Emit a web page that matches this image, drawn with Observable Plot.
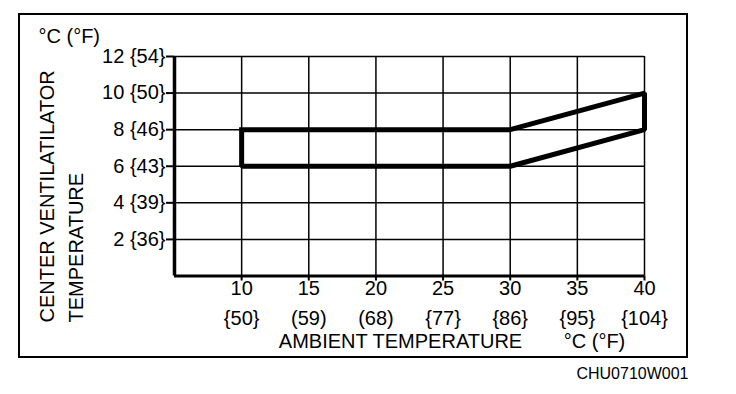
<!DOCTYPE html>
<html><head><meta charset="utf-8">
<script src="https://cdn.jsdelivr.net/npm/d3@7"></script>
<script src="https://cdn.jsdelivr.net/npm/@observablehq/plot@0.6"></script>
<style>body{margin:0;background:#fff}</style>
</head><body><div id="chart"></div>
<script>
// Ambient temperature ticks (°C) and their °F labels
const ambientC = [10, 15, 20, 25, 30, 35, 40];
const ambientF = ["{50}", "(59)", "(68)", "{77}", "{86}", "{95}", "{104}"];
// Center ventilator temperature ticks (°C) and their °F labels
const ventC = [2, 4, 6, 8, 10, 12];
const ventF = ["{36}", "{39}", "{43}", "{46}", "{50}", "{54}"];
// Control zone outline
const zoneAmbient = [10, 30, 40, 40, 30, 10, 10];
const zoneVent = [8, 8, 10, 8, 6, 6, 8];

const zone = zoneAmbient.map((a, i) => ({a, v: zoneVent[i]}));
const xF = new Map(ambientC.map((c, i) => [c, ambientF[i]]));
const yF = new Map(ventC.map((c, i) => [c, `${c} ${ventF[i]}`]));
const font = "'Liberation Sans', Arial, Helvetica, sans-serif";

const svg = Plot.plot({
  width: 736,
  height: 394,
  marginLeft: 174,
  marginRight: 92,
  marginTop: 56,
  marginBottom: 118.5,
  x: {domain: [5, 40], label: null},
  y: {domain: [0, 12], label: null},
  style: {fontFamily: font, fontSize: "20px", background: "white", color: "black"},
  marks: [
    Plot.gridX(ambientC, {stroke: "black", strokeOpacity: 1, strokeWidth: 1.5}),
    Plot.gridY(ventC, {stroke: "black", strokeOpacity: 1, strokeWidth: 1.5}),
    Plot.ruleX([5], {stroke: "black", strokeWidth: 3.5}),
    Plot.ruleY([0], {stroke: "black", strokeWidth: 3}),
    Plot.axisY(ventC, {tickSize: 8, tickPadding: 1, strokeWidth: 2, fontSize: 20, label: null, tickFormat: d => yF.get(d)}),
    Plot.axisX(ambientC, {tickSize: 5, tickPadding: 0, strokeWidth: 2, fontSize: 20, label: null, tickFormat: d => String(d)}),
    Plot.axisX(ambientC, {tickSize: 0, tickPadding: 34.5, fontSize: 20, label: null, tickFormat: d => xF.get(d)}),
    Plot.line(zone, {x: "a", y: "v", stroke: "black", strokeWidth: 5, strokeLinejoin: "miter", strokeLinecap: "square"}),
    Plot.text(["AMBIENT TEMPERATURE"], {frameAnchor: "bottom", dx: -9, dy: 71.5, lineAnchor: "bottom", fontSize: 20}),
    Plot.text(["°C (°F)"], {frameAnchor: "bottom-right", dx: -50, dy: 71.5, lineAnchor: "bottom", textAnchor: "middle", fontSize: 20}),
    Plot.text(["°C (°F)"], {frameAnchor: "top-left", dx: -136, dy: -14, lineAnchor: "bottom", textAnchor: "start", fontSize: 20}),
    Plot.text(["CENTER VENTILATILATOR\nTEMPERATURE"], {frameAnchor: "bottom-left", dx: -92, dy: 46.5, rotate: -90, textAnchor: "start", lineAnchor: "bottom", lineHeight: 1.45, fontSize: 20}),
    Plot.text(["CHU0710W001"], {frameAnchor: "bottom-right", dx: 44, dy: 102.5, lineAnchor: "bottom", textAnchor: "end", fontSize: 16})
  ]
});

d3.select(svg).append("rect")
  .attr("x", 19).attr("y", 14).attr("width", 668).attr("height", 343)
  .attr("fill", "none").attr("stroke", "black").attr("stroke-width", 2);

document.getElementById("chart").appendChild(svg);
</script>
</body></html>
